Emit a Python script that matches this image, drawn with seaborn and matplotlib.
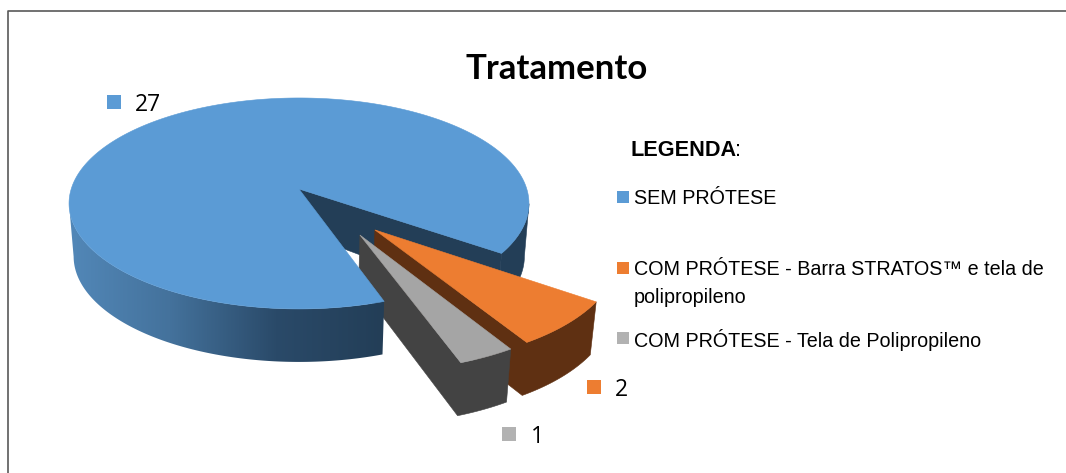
import numpy as np
import matplotlib
matplotlib.use("Agg")
import matplotlib.pyplot as plt
from matplotlib.colors import LinearSegmentedColormap
from matplotlib.patches import Polygon
import seaborn as sns

title = "Tratamento"
legend_title = "LEGENDA"
categories = ["SEM PRÓTESE",
              "COM PRÓTESE - Barra STRATOS™ e tela de\npolipropileno",
              "COM PRÓTESE - Tela de Polipropileno"]
values = [27, 2, 1]
colors = ["#5B9BD5", "#ED7D31", "#A5A5A5"]
marker_colors = ["#5B9BD5", "#ED7D31", "#B2B2B2"]
side_colors = ["#233E57", "#5F3012", "#434343"]

sns.set_theme(style="white")
palette = sns.color_palette(colors)
marker_palette = sns.color_palette(marker_colors)

fig = plt.figure(figsize=(10.66, 4.73), dpi=100)
ax = fig.add_axes([0, 0, 1, 1])
ax.axis("off")

# projection of the pie disc onto the page (layout only)
CX, CY, A, B, K = 299.0, 189.0, 227.8, 103.5, 0.137
DEPTH, SX = 53.0, 0.98
START = 71.0
LEFT_SIL, RIGHT_SIL = 172.0, 8.0


def top(phi, r=1.0, off=(0.0, 0.0)):
    p = np.radians(phi)
    u = r * np.cos(p) + off[0]
    v = r * np.sin(p) + off[1]
    w = 1 - K * v
    return CX + A * u / w, CY + B * v / w


def bottom(phi, r=1.0, off=(0.0, 0.0), drop=DEPTH):
    x, y = top(phi, r, off)
    return CX + (x - CX) * SX, y + drop


def arc(fn, a0, a1, off, n=80):
    phis = np.linspace(a0, a1, n)
    return fn(phis, 1.0, off)


def poly(xs, ys, color, z):
    ax.fill(xs, ys, color=color, lw=0.4, zorder=z)


fractions = np.array(values) / np.sum(values) * 360
ends = START + np.cumsum(fractions)
starts = ends - fractions
offsets = [(0.0, 0.0), (0.316, 0.375), (0.252, 0.419)]

# --- blue rim with horizontal shading (gradient clipped to the rim outline)
cmap = LinearSegmentedColormap.from_list("rim", ["#5389BA", "#44729C", "#2A4A69", "#233E57"])
sx, sy = arc(top, starts[0], LEFT_SIL, (0, 0), n=200)
ux, uy = arc(bottom, starts[0], LEFT_SIL, (0, 0), n=200)
rim = Polygon(np.c_[np.r_[sx, ux[::-1]], np.r_[sy, uy[::-1]]], closed=True, transform=ax.transData,
              fc="none", ec="none")
ax.add_patch(rim)
img = ax.imshow(np.linspace(0, 1, 256)[None, :], extent=(62, 384, 400, 150), cmap=cmap, aspect="auto",
                zorder=6, interpolation="bilinear")
img.set_clip_path(rim)

# --- slice 0 : large blue slice, inner cut face and right-hand rim
a0, a1 = starts[0], ends[0]
o = offsets[0]
rx, ry = arc(top, RIGHT_SIL + 360, a1, o)
bx, by = arc(bottom, RIGHT_SIL + 360, a1, o)
ax0, ay0 = top(0, 0, o)
ax1, ay1 = bottom(0, 0, o, drop=43)
poly(np.r_[rx, bx[::-1]], np.r_[ry, by[::-1]], side_colors[0], 1)
ex, ey = top(a1, 1.0, o)
fx, fy = bottom(a1, 1.0, o)
poly([ax0, ex, fx, ax1], [ay0, ey, fy, ay1], side_colors[0], 1)


def slice_3d(i, z):
    o = offsets[i]
    a0, a1 = starts[i], ends[i]
    tx, ty = arc(top, a0, a1, o)
    bx, by = arc(bottom, a0, a1, o)
    px, py = top(0, 0, o)
    qx, qy = bottom(0, 0, o, drop=50)
    outline_x = np.r_[px, tx[-1], tx[::-1], bx, bx[-1], qx]
    outline_y = np.r_[py, ty[-1], ty[::-1], by, by[-1], qy]
    poly(outline_x, outline_y, side_colors[i], z)
    poly(np.r_[px, tx], np.r_[py, ty], palette[i], z + 1)


slice_3d(1, 2)
slice_3d(2, 4)

# --- blue top face
tx, ty = arc(top, starts[0], ends[0], (0, 0), n=360)
poly(np.r_[ax0, tx], np.r_[ay0, ty], palette[0], 7)

# --- frame
ax.plot([7.5, 7.5, 1066], [473, 11, 11], color="#595959", lw=1.2, zorder=8)

# --- title
ax.text(557, 69, title, family="Lato", weight="bold", fontsize=25, ha="center", va="center",
        color="black", zorder=9)

# --- data labels
for val, col, mx, my, tx_ in zip(values, marker_palette, [114, 594, 509], [102, 387, 434], [135, 615, 531]):
    ax.scatter([mx], [my], marker="s", s=100, color=col, linewidths=0, zorder=9)
    ax.text(tx_, my + 3, str(val), family="Open Sans", fontsize=16.5, ha="left", va="center",
            color="black", zorder=9)

# --- legend
ax.text(630, 150, legend_title, family="Liberation Sans", weight="bold", fontsize=15.6, ha="left", va="center",
        color="black", zorder=9)
ax.text(735, 150, ":", family="Liberation Sans", fontsize=15.6, ha="left", va="center", color="black", zorder=9)
for cat, col, my in zip(categories, marker_palette, [197, 268, 338]):
    ax.scatter([623], [my], marker="s", s=85, color=col, linewidths=0, zorder=9)
    lines = cat.split("\n")
    ax.text(634, my + 1.5, lines[0], family="Liberation Sans", fontsize=14.2, ha="left", va="center",
            color="black", zorder=9)
    if len(lines) > 1:
        ax.text(634, my + 29.5, lines[1], family="Liberation Sans", fontsize=14.2, ha="left", va="center",
                color="black", zorder=9)

ax.set_xlim(0, 1066)
ax.set_ylim(473, 0)
fig.savefig("out.png", dpi=100, facecolor="white")
